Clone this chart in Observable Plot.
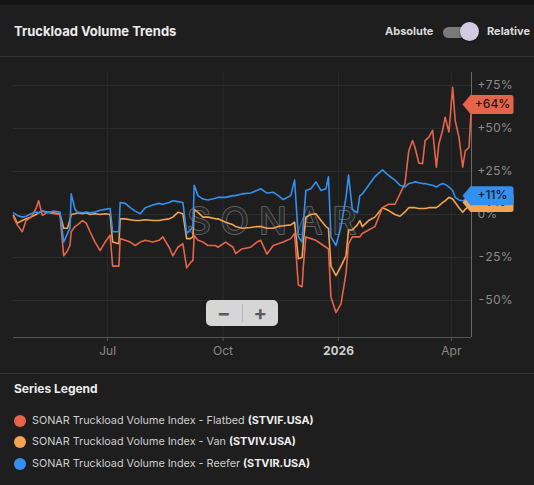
<!DOCTYPE html>
<html><head><meta charset="utf-8">
<script src="https://cdn.jsdelivr.net/npm/d3@7"></script>
<script src="https://cdn.jsdelivr.net/npm/@observablehq/plot@0.6"></script>
<style>
body{margin:0;background:#1e1e1e;font-family:Inter,"Noto Sans",sans-serif;width:534px;height:485px;overflow:hidden;position:relative}
.abs{position:absolute}
#topstrip{left:0;top:0;width:534px;height:5px;background:#141414}
.sep{left:0;width:534px;height:1px;background:#333}
#title{left:14px;top:23px;font-size:13px;font-weight:700;color:#ececec;line-height:16px}
.tgl{top:25px;font-size:11px;font-weight:700;color:#dcdcdc;line-height:13px}
#track{left:443px;top:27px;width:34px;height:11px;border-radius:6px;background:#7a7a7a}
#knob{left:460px;top:22px;width:19px;height:19px;border-radius:50%;background:#d2c9e2;box-shadow:0 1px 2px rgba(0,0,0,.5)}
#chart{left:0;top:57px;width:534px;height:316px}
#zoombox{left:206px;top:300px;width:72px;height:26px;border-radius:5px;background:#d6d6d6;display:flex;align-items:center}
#zoombox span{flex:1;text-align:center;font-size:20px;font-weight:700;color:#5a5a5a;line-height:26px}
#zoombox i{width:1px;height:18px;background:#b8b8b8}
#legtitle{left:14px;top:381px;font-size:12px;font-weight:700;color:#ececec;line-height:16px}
.item{left:14px;font-size:10.8px;color:#cfcfcf;line-height:14px;display:flex;align-items:center}
.item .dot{width:12px;height:12px;border-radius:50%;margin-right:6px}
.item b{color:#efefef;margin-left:3px}
</style>
</head><body>
<div class="abs" id="topstrip"></div>
<div class="abs" id="title">Truckload Volume Trends</div>
<div class="abs tgl" style="left:385px">Absolute</div>
<div class="abs" id="track"></div>
<div class="abs" id="knob"></div>
<div class="abs tgl" style="left:487px">Relative</div>
<div class="abs sep" style="top:56px"></div>
<div class="abs" id="chart"></div>
<div class="abs" id="zoombox"><span>−</span><i></i><span>+</span></div>
<div class="abs sep" style="top:373px"></div>
<div class="abs" id="legtitle">Series Legend</div>
<div id="legend"></div>
<script>
const seriesNames = ["Flatbed", "Van", "Reefer"];
const seriesCodes = ["STVIF.USA", "STVIV.USA", "STVIR.USA"];
const seriesColors = ["#e6644b", "#f3a452", "#3390f0"];
const dates = ["2025-04-17","2025-04-20","2025-04-24","2025-04-27","2025-05-01","2025-05-05","2025-05-07","2025-05-10","2025-05-14","2025-05-19","2025-05-24","2025-05-27","2025-05-30","2025-06-01","2025-06-02","2025-06-05","2025-06-07","2025-06-11","2025-06-14","2025-06-17","2025-06-21","2025-06-25","2025-06-29","2025-07-03","2025-07-05","2025-07-10","2025-07-11","2025-07-15","2025-07-19","2025-07-23","2025-07-27","2025-07-31","2025-08-06","2025-08-11","2025-08-14","2025-08-19","2025-08-22","2025-08-26","2025-08-30","2025-09-02","2025-09-05","2025-09-07","2025-09-08","2025-09-11","2025-09-15","2025-09-19","2025-09-25","2025-09-27","2025-10-03","2025-10-09","2025-10-11","2025-10-16","2025-10-23","2025-10-28","2025-10-31","2025-11-05","2025-11-10","2025-11-14","2025-11-18","2025-11-24","2025-11-27","2025-11-30","2025-12-03","2025-12-04","2025-12-06","2025-12-10","2025-12-14","2025-12-18","2025-12-22","2025-12-24","2025-12-26","2025-12-30","2026-01-03","2026-01-07","2026-01-09","2026-01-12","2026-01-16","2026-01-18","2026-01-20","2026-01-25","2026-01-30","2026-02-05","2026-02-10","2026-02-15","2026-02-19","2026-02-23","2026-02-26","2026-03-01","2026-03-03","2026-03-06","2026-03-09","2026-03-11","2026-03-14","2026-03-17","2026-03-20","2026-03-22","2026-03-25","2026-03-27","2026-03-30","2026-04-02","2026-04-04","2026-04-07","2026-04-10","2026-04-12","2026-04-15","2026-04-17"];
const flatbed = [-1.5,-6,-10,-3.5,-1.5,3.5,8,-0.5,1.3,0.5,0,-24,-21,-18,-10,-7,-6,-3.5,-5,-10,-16,-21,-16,-12,-30,-30,-14,-15,-16,-18,-16,-15,-16,-15,-13,-19,-24,-19,-17,-31,-28,-26.7,-12,-15,-16,-18,-18,-19,-16,-19,-22.7,-20,-19,-16,-15,-23,-18,-17,-16,-14,-11,-41,-42,-30,-13,-14,-15,-17,-19,-20,-48,-57,-52,-34,-17,-13,-13,-13,-11,-9,-7,4,6,6,12,18,37,43,39,30,29.6,43,45,49,27.5,41,49,56.6,48,74,54.7,45,27.5,37,39,64];
const van = [-0.5,-5,-3.5,-2.5,-1.5,0,1,2,1.5,1,0.5,-8,-8,-3,0,0.5,1,0.5,1,0,0.5,0,0.5,0,-16,-17,-2.5,-2.5,-3,-3.5,-3.5,-3,-3.5,-3.5,-3,-2.5,-1.5,1.3,0.5,-14,-14,-13,3,1.3,-1.5,-1.5,-2.5,-2.5,-4.5,-6,-7,-8,-7.5,-7,-7,-8,-8,-7,-6.5,-6,-4.5,-25.7,-25,-16,-1.5,0,0.5,-3.5,-7,-8,-30,-35.5,-30,-24,-9,-9,-6,-3.5,-7,-3.5,-1.5,4,2.3,0,-1,1.5,4,4,4,3.5,3.5,3.5,4,4,4,5,7,8,10,9,7,4,1.3,3,5,7];
const reefer = [1,-0.5,-1.5,-1,0.5,1.5,1,2,1,2,1.5,-16,-11,-8,12,3,1.5,1,1.5,1,1.5,2.5,3,3.5,-10,-10,7,6.5,4,2,0.5,4,5.5,6.5,6,7,8,7.5,7,-11,-9,-7,17,11,9,8.5,9.5,10,10,11,11,12,12.5,14,15,12.5,13,11,8.7,11,20,-13,-16,-5,14,15,19,14,15,22,-13,-18,-7,10,23,3,1,11,12,17,22,26,22.7,20,17,16,18,18.5,19,18.5,18,18,17.5,17,16,17,18,17.5,16,14,10,8.5,8,9,10,11];
const xTickDates = ["2025-07-01","2025-10-01","2026-01-01","2026-04-01"];
const xTickLabels = ["Jul","Oct","2026","Apr"];
const yTickValues = [-50,-25,0,25,50,75];
const yTickLabels = ["-50%","-25%","0%","+25%","+50%","+75%"];
const endLabels = ["+64%","+7%","+11%"];
const xDomain = ["2025-04-17","2026-04-17"];
const yDomain = [-71.5, 82.6];

const valuesBySeries = [flatbed, van, reefer];
const table = [];
seriesNames.forEach((s, k) => dates.forEach((d, i) => table.push({series: s, date: new Date(d), value: valuesBySeries[k][i]})));
const lastPts = seriesNames.map((s, k) => ({series: s, date: new Date(dates[dates.length - 1]), value: valuesBySeries[k][dates.length - 1], label: endLabels[k]}));

const tagSymbol = {draw(ctx) {
  const h = 9.5, r = 2.5, R = 42;
  ctx.moveTo(-9, 0);
  ctx.lineTo(-1, -h);
  ctx.lineTo(R - r, -h);
  ctx.quadraticCurveTo(R, -h, R, -h + r);
  ctx.lineTo(R, h - r);
  ctx.quadraticCurveTo(R, h, R - r, h);
  ctx.lineTo(-1, h);
  ctx.closePath();
}};

const drawOrder = ["Van", "Flatbed", "Reefer"];
const tickD = xTickDates.map(d => new Date(d));
const fmtX = d => xTickLabels[xTickDates.indexOf(d.toISOString().slice(0, 10))];

const marks = [
  Plot.gridY(yTickValues, {stroke: "#2d2d2d", strokeOpacity: 1}),
  Plot.gridX(tickD, {stroke: "#2a2a2a", strokeOpacity: 1}),
  Plot.text(["SONAR"], {frameAnchor: "middle", dx: 34, dy: 17, fontSize: 37, fontWeight: 400, fill: "#262626", stroke: "#606060", strokeWidth: 2, text: d => d}),
  Plot.ruleY([yDomain[0]], {stroke: "#555"}),
  Plot.ruleX([new Date(xDomain[1])], {stroke: "#6a6a6a"}),
  Plot.axisX(tickD.filter((d, i) => xTickLabels[i] !== "2026"), {label: null, tickSize: 4, tickPadding: 5, stroke: "#555", fill: "#8a8a8a", fontSize: 12, tickFormat: fmtX}),
  Plot.axisX(tickD.filter((d, i) => xTickLabels[i] === "2026"), {label: null, tickSize: 4, tickPadding: 5, stroke: "#555", fill: "#d0d0d0", fontSize: 12, fontWeight: "bold", tickFormat: fmtX}),
  Plot.axisY(yTickValues, {label: null, anchor: "right", tickSize: 0, tickPadding: 6, fill: "#8c8c8c", fontSize: 12, tickFormat: v => yTickLabels[yTickValues.indexOf(v)]}),
  ...drawOrder.map(s => Plot.lineY(table.filter(d => d.series === s), {x: "date", y: "value", stroke: "series", strokeWidth: 1.6})),
];
drawOrder.forEach(s => {
  const p = lastPts.filter(d => d.series === s);
  marks.push(Plot.dot(p, {x: "date", y: "value", fill: "series", symbol: tagSymbol, r: 5}));
  marks.push(Plot.text(p, {x: "date", y: "value", text: "label", dx: 21, fill: "#1b1b1b", fontSize: 12, fontWeight: 500}));
});

const chart = Plot.plot({
  width: 534, height: 316,
  marginLeft: 13, marginRight: 63, marginTop: 15, marginBottom: 36,
  style: {background: "transparent", color: "#8c8c8c", fontFamily: "Inter, 'Noto Sans', sans-serif", fontSize: "12px", overflow: "visible"},
  x: {type: "utc", domain: xDomain.map(d => new Date(d)), axis: null, label: null},
  y: {domain: yDomain, axis: null, label: null},
  color: {domain: seriesNames, range: seriesColors},
  marks
});
document.getElementById("chart").appendChild(chart);
chart.querySelectorAll("text").forEach(t => { if (t.textContent === "SONAR") t.setAttribute("letter-spacing", "10px"); });

const legend = document.getElementById("legend");
const tops = [414, 435, 457];
seriesNames.forEach((s, k) => {
  const div = document.createElement("div");
  div.className = "abs item";
  div.style.top = tops[k] + "px";
  div.innerHTML = `<span class="dot" style="background:${seriesColors[k]}"></span>SONAR Truckload Volume Index - ${s}<b>(${seriesCodes[k]})</b>`;
  legend.appendChild(div);
});
</script>
</body></html>
